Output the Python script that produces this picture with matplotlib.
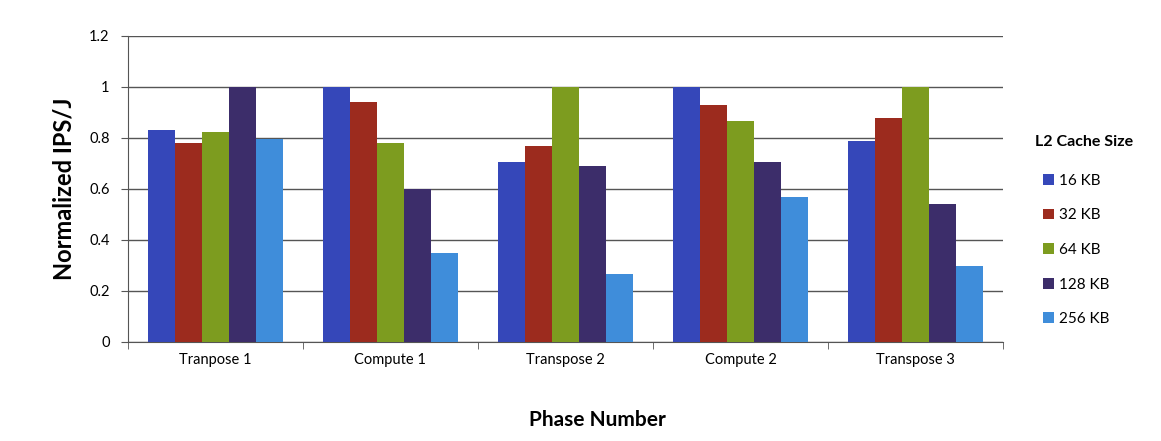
import matplotlib.pyplot as plt
import numpy as np

# fases e tamanhos de cache
fases = ['Tranpose 1', 'Compute 1', 'Transpose 2', 'Compute 2', 'Transpose 3']
caches = ['16 KB', '32 KB', '64 KB', '128 KB', '256 KB']

kb16 = [0.83, 1.0, 0.705, 1.0, 0.79]
kb32 = [0.78, 0.94, 0.77, 0.93, 0.88]
kb64 = [0.825, 0.78, 1.0, 0.865, 1.0]
kb128 = [1.0, 0.60, 0.69, 0.705, 0.54]
kb256 = [0.795, 0.35, 0.265, 0.567, 0.298]

series = [kb16, kb32, kb64, kb128, kb256]
cores = ['#3547B9', '#9C2B1E', '#7D9C1F', '#3C2D6A', '#3F8DDA']

plt.rcParams['font.family'] = ['Lato', 'DejaVu Sans']

fig = plt.figure(figsize=(11.61, 4.41), dpi=100)
ax = fig.add_axes([0.110, 0.2245, 0.754, 0.694])

x = np.arange(len(fases))
largura = 0.154
for i, (vals, cor) in enumerate(zip(series, cores)):
    ax.bar(x + (i - 2) * largura, vals, largura, color=cor, label=caches[i], zorder=3)

ax.set_ylim(0, 1.2)
ax.set_xlim(-0.5, len(fases) - 0.5)
ax.set_yticks(np.arange(0, 1.21, 0.2))
ax.set_yticklabels(['0', '0.2', '0.4', '0.6', '0.8', '1', '1.2'], fontsize=10.5)
ax.yaxis.grid(True, color='#555555', linewidth=1.0, zorder=0)

ax.set_xticks(x)
ax.set_xticklabels(fases, fontsize=10.5)
ax.tick_params(axis='x', length=0, pad=8)
ax.set_xticks(np.arange(-0.5, len(fases), 1), minor=True)
ax.tick_params(axis='x', which='minor', length=5, direction='out', color='#555555')
ax.tick_params(axis='y', length=5, direction='out', color='#555555', pad=8)

for lado in ['top', 'right']:
    ax.spines[lado].set_visible(False)
for lado in ['left', 'bottom']:
    ax.spines[lado].set_color('#555555')

ax.set_ylabel('Normalized IPS/J', fontsize=17, fontweight='bold', labelpad=10)
fig.text(597 / 1161, 1 - 420 / 441, 'Phase Number', fontsize=15, fontweight='bold',
         ha='center', va='center')

# titulo da legenda separado, para os itens ficarem recuados
fig.text(1035 / 1161, 1 - 142 / 441, 'L2 Cache Size', fontsize=11.5, fontweight='bold',
         ha='left', va='center')
ax.legend(loc='upper left', bbox_to_anchor=(1.046, 0.55), frameon=False,
          fontsize=11, handlelength=0.7, handleheight=0.7,
          labelspacing=1.35, handletextpad=0.3, borderaxespad=0, borderpad=0)

plt.savefig('out.png', dpi=100)
